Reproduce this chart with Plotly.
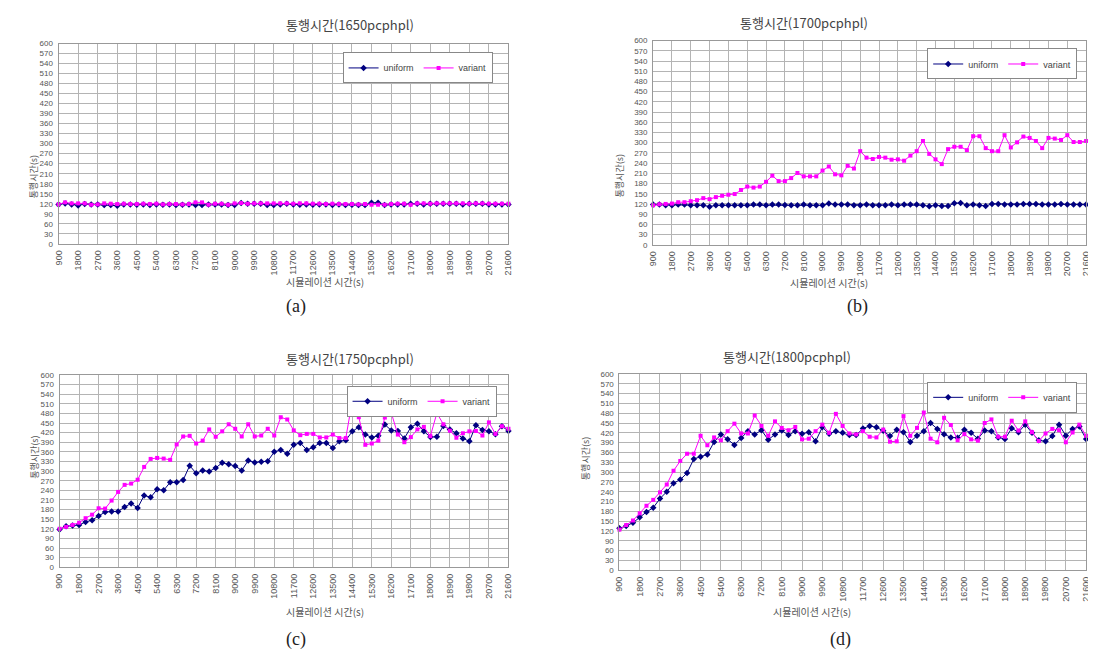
import plotly.graph_objects as go

times = list(range(900, 21601, 300))
tick_vals = list(range(900, 21601, 900))

a_uniform = [118,121,118,115,119,118,118,116,116,114,118,118,117,118,116,118,117,118,116,117,
             118,116,116,118,118,118,116,116,122,120,120,120,116,116,118,120,118,117,118,117,
             118,118,116,118,116,117,116,116,123,123,116,118,118,118,120,120,118,120,120,120,
             120,120,118,120,120,120,118,118,118,118]
a_variant = [118,124,121,121,121,117,118,121,120,119,120,119,119,120,119,120,118,119,119,118,
             119,124,124,117,120,120,117,121,122,120,121,121,121,121,121,121,120,121,121,120,
             120,119,120,119,119,119,118,119,117,117,117,119,120,120,117,121,121,120,121,121,
             121,121,121,120,121,121,120,120,120,120]
b_uniform = [118,118,116,116,118,118,116,116,116,112,116,116,116,116,116,116,118,118,116,118,
             118,117,116,116,118,116,116,116,121,118,118,118,116,116,118,116,116,116,118,116,
             118,118,118,116,113,116,114,114,122,123,116,118,116,114,120,120,118,118,118,120,
             120,120,118,118,118,120,118,118,118,118]
b_variant = [116,119,120,121,125,125,128,131,137,134,140,144,147,149,161,171,168,171,185,203,
             187,187,196,211,201,201,201,218,230,207,204,232,224,275,256,252,258,256,250,251,
             247,262,275,305,267,251,237,281,288,288,278,319,319,284,275,275,322,286,301,318,
             314,305,284,314,312,308,322,302,302,305]
c_uniform = [118,128,130,132,141,147,160,172,174,174,188,199,185,224,218,243,240,265,265,272,
             317,293,302,299,310,326,321,316,302,333,327,329,331,360,366,354,382,388,366,374,
             388,388,372,393,396,424,437,414,405,410,445,427,425,402,437,448,424,406,407,441,
             430,418,402,393,443,428,424,415,440,425]
c_variant = [120,126,132,139,153,164,184,183,208,235,257,261,273,313,338,341,339,335,383,408,
             410,386,395,430,407,424,446,432,408,446,408,411,432,411,468,461,427,412,416,416,
             405,405,414,403,403,520,468,382,386,395,467,481,414,390,406,430,438,409,481,446,
             426,404,418,424,425,411,452,416,440,432]
d_uniform = [128,135,145,162,178,191,219,240,266,277,297,340,347,354,392,415,400,383,404,425,
             415,428,399,415,427,413,425,417,422,394,437,417,425,420,413,413,433,441,437,426,
             410,429,422,392,411,425,450,432,416,406,405,429,420,402,427,425,406,401,434,422,
             445,420,397,394,410,445,411,432,439,401]
d_variant = [124,138,152,174,197,215,238,262,304,334,356,356,411,382,406,397,425,448,418,418,
             473,441,411,455,435,428,438,400,402,425,445,420,478,441,418,415,425,408,406,430,
             393,394,471,411,435,482,402,391,466,444,397,416,400,396,450,461,408,408,457,427,
             455,422,395,418,432,428,391,421,445,411]

titles = ["통행시간(1650pcphpl)", "통행시간(1700pcphpl)", "통행시간(1750pcphpl)", "통행시간(1800pcphpl)"]
labels = ["(a)", "(b)", "(c)", "(d)"]
series = [(a_uniform, a_variant), (b_uniform, b_variant), (c_uniform, c_variant), (d_uniform, d_variant)]

W, H = 1096, 653


def px(x):
    return x / W


def py(y):
    return 1 - y / H


# plot boxes in page pixels: left, right, top, bottom
boxes = [(46, 500, 32, 235), (646, 1083, 29, 236), (47, 500, 368, 563), (612, 1083, 367, 566)]
legend_pos = [(484, 41), (1074, 37), (488, 379), (1074, 375)]
title_y = [13, 11, 351, 349]
xtitle_y = [273, 274, 608, 608]
label_y = [299, 299, 636, 636]

FONT = "Noto Sans CJK KR"
TICKFONT = "Liberation Sans"
fig = go.Figure()
for k, ((u, v), (l, r, t, b)) in enumerate(zip(series, boxes)):
    sfx = "" if k == 0 else str(k + 1)
    lg = "legend" if k == 0 else "legend" + str(k + 1)
    fig.add_trace(go.Scatter(x=times, y=u, name="uniform", mode="lines+markers",
                             line=dict(color="#000080", width=1),
                             marker=dict(symbol="diamond", size=5, color="#000080"),
                             xaxis="x" + sfx, yaxis="y" + sfx, legend=lg, cliponaxis=False))
    fig.add_trace(go.Scatter(x=times, y=v, name="variant", mode="lines+markers",
                             line=dict(color="#FF00FF", width=1),
                             marker=dict(symbol="square", size=4, color="#FF00FF"),
                             xaxis="x" + sfx, yaxis="y" + sfx, legend=lg, cliponaxis=False))
    xd = [px(l), px(r)]
    yd = [py(b), py(t)]
    fig.layout["xaxis" + sfx] = dict(domain=xd, anchor="y" + sfx, range=[899.98, 21600.02],
                                     tickmode="array", tickvals=tick_vals,
                                     ticktext=[str(x) for x in tick_vals], tickangle=-90,
                                     showgrid=True, gridcolor="#b4b4b4", gridwidth=1,
                                     showline=True, linecolor="#999999", mirror=True,
                                     zeroline=False, ticks="", ticklabelstandoff=2,
                                     ticklabeloverflow="allow",
                                     tickfont=dict(size=9, color="#555555", family=TICKFONT))
    fig.layout["yaxis" + sfx] = dict(domain=yd, anchor="x" + sfx, range=[0, 600], dtick=30,
                                     showgrid=True, gridcolor="#b4b4b4", gridwidth=1,
                                     showline=True, linecolor="#999999", mirror=True,
                                     zeroline=False, ticks="", ticklabelstandoff=3,
                                     tickfont=dict(size=8, color="#555555", family=TICKFONT))
    lx, ly = legend_pos[k]
    fig.layout[lg] = dict(x=px(lx), y=py(ly), xanchor="right", yanchor="top",
                          orientation="h", bgcolor="white", bordercolor="#888888",
                          borderwidth=1, font=dict(size=9, color="#444444", family=TICKFONT),
                          itemwidth=30, tracegroupgap=0)
    cx = (l + r) / 2
    fig.add_annotation(x=px(cx), y=py(title_y[k]), xref="paper", yref="paper",
                       text=titles[k], showarrow=False, yanchor="middle",
                       font=dict(size=13, color="#444444", family=FONT))
    fig.add_annotation(x=px(l - 34), y=py((t + b) / 2 + 10), xref="paper", yref="paper",
                       text="통행시간(s)", textangle=-90, showarrow=False,
                       font=dict(size=9, color="#555555", family=FONT))
    fig.add_annotation(x=px(cx), y=py(xtitle_y[k]), xref="paper", yref="paper",
                       text="시뮬레이션 시간(s)", showarrow=False, yanchor="middle",
                       font=dict(size=10, color="#555555", family=FONT))
    fig.add_annotation(x=px(cx), y=py(label_y[k]), xref="paper", yref="paper",
                       text=labels[k], showarrow=False, yanchor="middle",
                       font=dict(size=18, color="#222222", family="Liberation Serif"))

fig.update_layout(width=W, height=H, margin=dict(l=0, r=0, t=0, b=0),
                  paper_bgcolor="white", plot_bgcolor="white")
fig.write_html("out.html")
